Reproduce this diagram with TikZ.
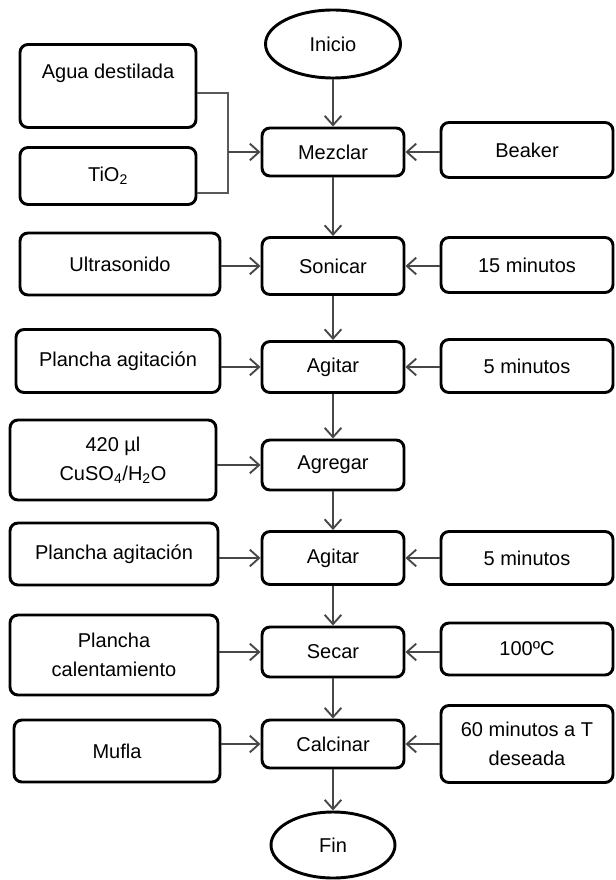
\documentclass[tikz,border=0pt]{standalone}
\usepackage{fontspec}
\setmainfont{Liberation Sans}
\usetikzlibrary{shapes.geometric,arrows.meta}
\tikzset{
  base/.style={draw=black, line width=2.2pt, align=center, inner sep=0pt,
    font=\fontsize{15}{21.75}\selectfont},
  box/.style={base, rounded corners=6pt},
  oval/.style={base, ellipse},
  sz/.style 2 args={minimum width=#1, minimum height=#2},
  arr/.style={draw=black!72, line width=1.4pt,
    -{Straight Barb[length=7pt,width=12.5pt,line width=1.4pt]}},
  brk/.style={draw=black!65, line width=1.2pt}
}
\begin{document}
\begin{tikzpicture}[x=0.75pt,y=-0.75pt]
\useasboundingbox (0,0) rectangle (615,880);
% center column
\node[oval, sz={101.25pt}{51pt}] (inicio) at (333,44) {Inicio};
\node[box, sz={106.5pt}{36pt}] (mezclar) at (333,152) {Mezclar};
\node[box, sz={106.5pt}{42.75pt}] (sonicar) at (333,266) {Sonicar};
\node[box, sz={106.5pt}{38.25pt}] (agitar1) at (333,367) {Agitar};
\node[box, sz={106.5pt}{37.5pt}] (agregar) at (333,465) {Agregar};
\node[box, sz={106.5pt}{39.75pt}] (agitar2) at (333,558) {Agitar};
\node[box, sz={106.5pt}{37.5pt}] (secar) at (333,652) {Secar};
\node[box, sz={106.5pt}{36pt}] (calcinar) at (333,744) {Calcinar};
\node[oval, sz={93pt}{49.5pt}] (fin) at (333,845) {Fin};
% left column
\node[box, sz={132pt}{62.25pt}] (agua) at (108,86) {Agua destilada\\~};
\node[box, sz={132pt}{42.75pt}] (tio) at (108,176) {TiO\textsubscript{2}};
\node[box, sz={150pt}{46.5pt}] (ultra) at (120,264) {Ultrasonido};
\node[box, sz={153pt}{47.25pt}] (plancha1) at (118,361) {Plancha agitación};
\node[box, sz={154.5pt}{60pt}] (cuso) at (113,460) {420 µl\\CuSO\textsubscript{4}/H\textsubscript{2}O};
\node[box, sz={156pt}{46.5pt}] (plancha2) at (114,554) {Plancha agitación};
\node[box, sz={156pt}{60pt}] (calent) at (114,655) {Plancha\\calentamiento};
\node[box, sz={154.5pt}{46.5pt}] (mufla) at (117,751) {Mufla};
% right column
\node[box, sz={129pt}{41.25pt}] (beaker) at (527,150) {Beaker};
\node[box, sz={129pt}{41.25pt}] (quince) at (527,265) {15 minutos};
\node[box, sz={129pt}{39.75pt}] (cinco1) at (527,366) {5 minutos};
\node[box, sz={129pt}{39.75pt}] (cinco2) at (527,558) {5 minutos};
\node[box, sz={129pt}{39pt}] (cien) at (527,649) {100ºC};
\node[box, sz={129pt}{57.75pt}] (sesenta) at (527,744) {60 minutos a T\\deseada};
% main flow
\draw[arr] (inicio) -- (mezclar);
\draw[arr] (mezclar) -- (sonicar);
\draw[arr] (sonicar) -- (agitar1);
\draw[arr] (agitar1) -- (agregar);
\draw[arr] (agregar) -- (agitar2);
\draw[arr] (agitar2) -- (secar);
\draw[arr] (secar) -- (calcinar);
\draw[arr] (calcinar) -- (fin);
% bracket
\coordinate (bt) at (228,93);
\coordinate (bb) at (228,193);
\draw[brk] (agua.east |- bt) -- (bt) -- (bb) -- (tio.east |- bb);
\draw[arr] (bt |- mezclar.west) -- (mezclar.west);
% left inputs
\draw[arr] (ultra.east |- sonicar.west) -- (sonicar.west);
\draw[arr] (plancha1.east |- agitar1.west) -- (agitar1.west);
\draw[arr] (cuso.east |- agregar.west) -- (agregar.west);
\draw[arr] (plancha2.east |- agitar2.west) -- (agitar2.west);
\draw[arr] (calent.east |- secar.west) -- (secar.west);
\draw[arr] (mufla.east |- calcinar.west) -- (calcinar.west);
% right inputs
\draw[arr] (beaker.west |- mezclar.east) -- (mezclar.east);
\draw[arr] (quince.west |- sonicar.east) -- (sonicar.east);
\draw[arr] (cinco1.west |- agitar1.east) -- (agitar1.east);
\draw[arr] (cinco2.west |- agitar2.east) -- (agitar2.east);
\draw[arr] (cien.west |- secar.east) -- (secar.east);
\draw[arr] (sesenta.west |- calcinar.east) -- (calcinar.east);
\end{tikzpicture}
\end{document}
